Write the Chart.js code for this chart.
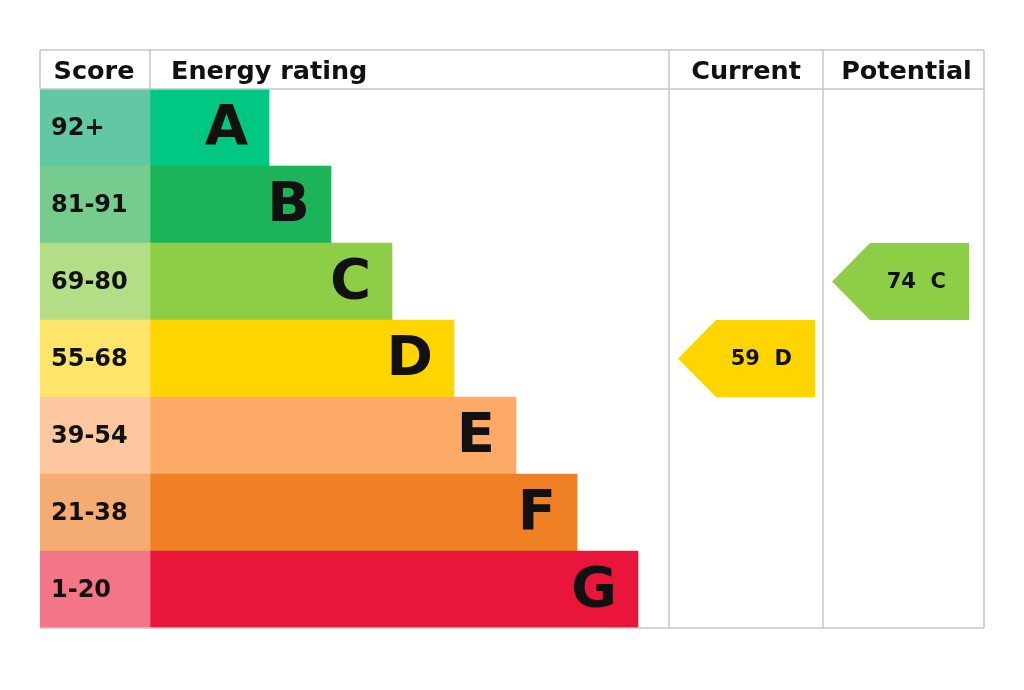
<!DOCTYPE html>
<html>
<head>
<meta charset="utf-8">
<title>Energy rating</title>
<script src="https://cdn.jsdelivr.net/npm/chart.js@4.4.1/dist/chart.umd.min.js"></script>
<style>
  html, body { margin: 0; padding: 0; background: #fff; }
  canvas { display: block; }
</style>
</head>
<body>
<canvas id="epcChart" width="1024" height="690"></canvas>
<script>
// bands and their score ranges, top to bottom
const bands = ['A', 'B', 'C', 'D', 'E', 'F', 'G'];
const scoreRanges = ['92+', '81-91', '69-80', '55-68', '39-54', '21-38', '1-20'];
// length of each rating bar (same units as the x scale)
const ratingLengths = [119, 181, 242, 304, 366, 427, 488];
const bandColors = ['#00c781', '#1bb45a', '#8dce46', '#ffd500', '#fcaa65', '#ef8023', '#e9153b'];
const scoreColors = ['#62c8a4', '#76cc8f', '#b4de86', '#ffe46a', '#fdc8a0', '#f5ac72', '#f27588'];
const headers = ['Score', 'Energy rating', 'Current', 'Potential'];
const currentScore = 59, currentBand = 'D';
const potentialScore = 74, potentialBand = 'C';

// column edges along the x scale
const scoreEnd = 110, currentStart = 629, potentialStart = 783, tableEnd = 944;

const FONT = '"DejaVu Sans", "Liberation Sans", Arial, sans-serif';

const tablePlugin = {
    id: 'epcTable',
    afterDatasetsDraw(chart) {
        const { ctx, scales: { x, y }, chartArea } = chart;
        const rowH = y.getPixelForValue(1) - y.getPixelForValue(0);
        const top = chartArea.top, bottom = chartArea.bottom;
        const headTop = top - 39;
        const x0 = x.getPixelForValue(0);
        const xs = x.getPixelForValue(scoreEnd);
        const xc = x.getPixelForValue(currentStart);
        const xp = x.getPixelForValue(potentialStart);
        const xe = x.getPixelForValue(tableEnd);

        ctx.save();
        // grid lines
        ctx.strokeStyle = '#c6c6c6';
        ctx.lineWidth = 1.5;
        ctx.beginPath();
        ctx.moveTo(x0, headTop); ctx.lineTo(xe, headTop);
        ctx.moveTo(x0, top); ctx.lineTo(xe, top);
        ctx.moveTo(x0, bottom); ctx.lineTo(xe, bottom);
        ctx.moveTo(x0, headTop); ctx.lineTo(x0, top);
        ctx.moveTo(xs, headTop); ctx.lineTo(xs, top);
        ctx.moveTo(xc, headTop); ctx.lineTo(xc, bottom);
        ctx.moveTo(xp, headTop); ctx.lineTo(xp, bottom);
        ctx.moveTo(xe, headTop); ctx.lineTo(xe, bottom);
        ctx.stroke();

        // header text
        ctx.fillStyle = '#111';
        ctx.font = 'bold 25.5px ' + FONT;
        ctx.textBaseline = 'alphabetic';
        const hy = headTop + 29;
        ctx.textAlign = 'center';
        ctx.fillText(headers[0], (x0 + xs) / 2 - 1, hy);
        ctx.textAlign = 'left';
        ctx.fillText(headers[1], xs + 21, hy);
        ctx.textAlign = 'center';
        ctx.fillText(headers[2], (xc + xp) / 2, hy);
        ctx.fillText(headers[3], (xp + xe) / 2 + 3, hy);

        // score labels and band letters
        ctx.textBaseline = 'middle';
        bands.forEach((b, i) => {
            const cy = y.getPixelForValue(i);
            ctx.font = 'bold 24px ' + FONT;
            ctx.textAlign = 'left';
            ctx.fillText(scoreRanges[i], x0 + 11, cy + 1);
            ctx.font = 'bold 56px ' + FONT;
            ctx.textAlign = 'right';
            ctx.fillText(b, x.getPixelForValue(scoreEnd + ratingLengths[i]) - 21, cy + 2);
        });

        // arrows for current and potential
        function arrow(colLeft, colRight, band, score) {
            const i = bands.indexOf(band);
            const cy = y.getPixelForValue(i);
            const t = cy - rowH / 2, bt = cy + rowH / 2;
            const tip = colLeft + 9, right = colRight - 8 - (colRight - colLeft > 155 ? 7 : 0);
            const shoulder = tip + 38;
            ctx.fillStyle = bandColors[i];
            ctx.beginPath();
            ctx.moveTo(tip, cy);
            ctx.lineTo(shoulder, t);
            ctx.lineTo(right, t);
            ctx.lineTo(right, bt);
            ctx.lineTo(shoulder, bt);
            ctx.closePath();
            ctx.fill();
            ctx.fillStyle = '#111';
            ctx.font = 'bold 21px ' + FONT;
            ctx.textAlign = 'right';
            ctx.textBaseline = 'middle';
            ctx.fillText(score + '  ' + band, right - 23, cy + 1);
        }
        arrow(xc, xp, currentBand, currentScore);
        arrow(xp, xe, potentialBand, potentialScore);
        ctx.restore();
    }
};

const ctx = document.getElementById('epcChart').getContext('2d');
const chart = new Chart(ctx, {
    type: 'bar',
    data: {
        labels: bands,
        datasets: [{
            label: 'Score',
            data: bands.map(() => [0, scoreEnd]),
            backgroundColor: scoreColors,
            barPercentage: 1,
            categoryPercentage: 1,
            grouped: false
        }, {
            label: 'Energy rating',
            data: ratingLengths.map(v => [scoreEnd, scoreEnd + v]),
            backgroundColor: bandColors,
            barPercentage: 1,
            categoryPercentage: 1,
            grouped: false
        }]
    },
    options: {
        indexAxis: 'y',
        responsive: false,
        animation: false,
        devicePixelRatio: 1,
        layout: { padding: { top: 89, left: 40, right: 40, bottom: 62 } },
        plugins: { legend: { display: false }, tooltip: { enabled: false } },
        scales: {
            x: { type: 'linear', min: 0, max: tableEnd, display: false },
            y: { display: false }
        }
    },
    plugins: [tablePlugin]
});
</script>
</body>
</html>
